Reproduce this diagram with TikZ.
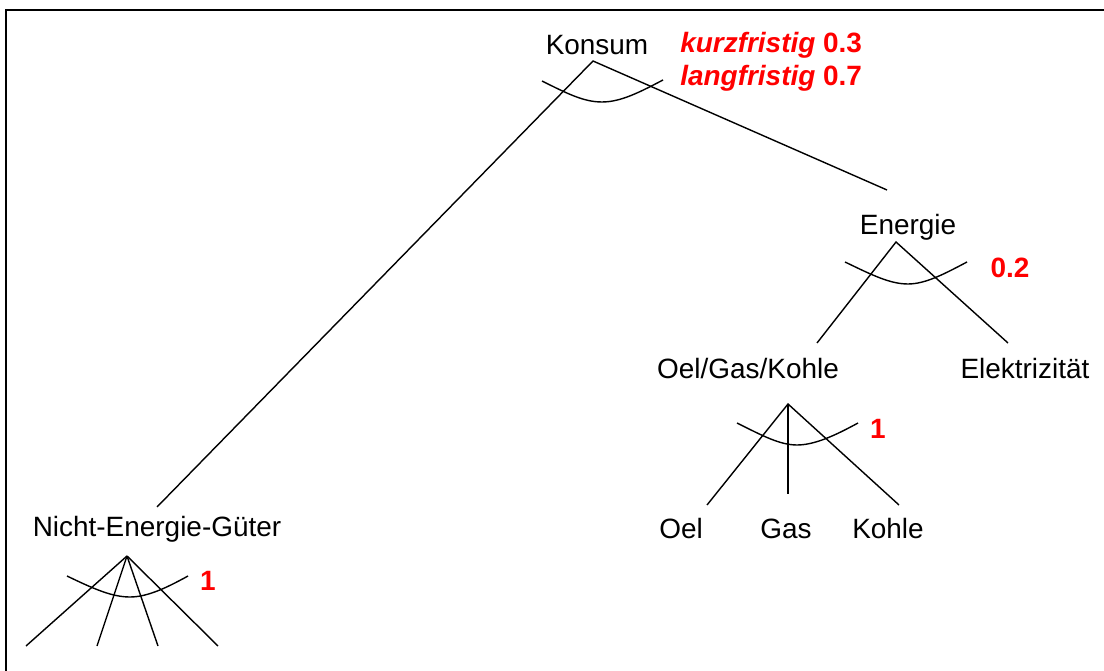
\documentclass[tikz,border=0pt]{standalone}
\usepackage{fontspec}
\setmainfont{Liberation Sans}
\begin{document}
\begin{tikzpicture}[x=0.02cm,y=-0.02cm,
  lbl/.style={font=\fontsize{15.9}{18}\selectfont, inner sep=0pt, text=black},
  wt/.style={font=\fontsize{15.9}{18}\selectfont\bfseries, inner sep=0pt, text=red},
  br/.style={line width=0.8pt, black},
  frm/.style={line width=1.3pt, black}]
\useasboundingbox (0,0) rectangle (1104,671);
% frame
\coordinate (fa) at (6,671);
\coordinate (fb) at (6,10);
\coordinate (fc) at (1104,10);
\draw[frm] (fa) -- (fb) -- (fc);

% texts
\node[lbl] (konsum) at (597,45) {Konsum};
\node[wt, anchor=west] (kurz) at (680,45) {\itshape kurzfristig\upshape{} 0.3};
\node[wt, anchor=west] (lang) at (680,78) {\itshape langfristig\upshape{} 0.7};
\node[lbl] (energie) at (908,227) {Energie};
\node[wt] (w02) at (1010,268) {0.2};
\node[lbl] (ogk) at (748,369) {Oel/Gas/Kohle};
\node[lbl] (elek) at (1025,369) {Elektrizität};
\node[wt] (w1a) at (878,429) {1};
\node[lbl] (oel) at (681,529) {Oel};
\node[lbl] (gas) at (786,529) {Gas};
\node[lbl] (kohle) at (888,529) {Kohle};
\node[lbl] (neg) at (157,529) {Nicht-Energie-Güter};
\node[wt] (w1b) at (208,581) {1};

% Konsum
\coordinate (k0) at (593,61);
\coordinate (k1) at (157,507);
\coordinate (k2) at (887,190);
\draw[br] (k1) -- (k0) -- (k2);
\coordinate (kc1) at (542,81);
\coordinate (kc2) at (602,102);
\coordinate (kc3) at (663,80);
\draw[br] (kc1) .. controls (568,94) and (584,102) .. (kc2) .. controls (621,102) and (640,92) .. (kc3);

% Energie
\coordinate (e0) at (896,242);
\coordinate (e1) at (817,343);
\coordinate (e2) at (1008,343);
\draw[br] (e1) -- (e0) -- (e2);
\coordinate (ec1) at (845,262);
\coordinate (ec2) at (908,284);
\coordinate (ec3) at (967,262);
\draw[br] (ec1) .. controls (872,275) and (890,284) .. (ec2) .. controls (926,284) and (946,273) .. (ec3);

% Oel/Gas/Kohle
\coordinate (o0) at (788,404);
\coordinate (o1) at (707,505);
\coordinate (o2) at (788,494);
\coordinate (o3) at (899,505);
\draw[br] (o1) -- (o0) -- (o3);
\draw[br] (o0) -- (o2);
\coordinate (oc1) at (737,423);
\coordinate (oc2) at (797,445);
\coordinate (oc3) at (858,423);
\draw[br] (oc1) .. controls (763,436) and (780,445) .. (oc2) .. controls (815,445) and (836,435) .. (oc3);

% Nicht-Energie-Gueter
\coordinate (n0) at (127,556);
\coordinate (n1) at (26,646);
\coordinate (n2) at (97,646);
\coordinate (n3) at (158,646);
\coordinate (n4) at (218,646);
\draw[br] (n0) -- (n1);
\draw[br] (n0) -- (n2);
\draw[br] (n0) -- (n3);
\draw[br] (n0) -- (n4);
\coordinate (nc1) at (67,576);
\coordinate (nc2) at (130,597);
\coordinate (nc3) at (188,576);
\draw[br] (nc1) .. controls (94,589) and (112,597) .. (nc2) .. controls (148,597) and (168,587) .. (nc3);
\end{tikzpicture}
\end{document}
